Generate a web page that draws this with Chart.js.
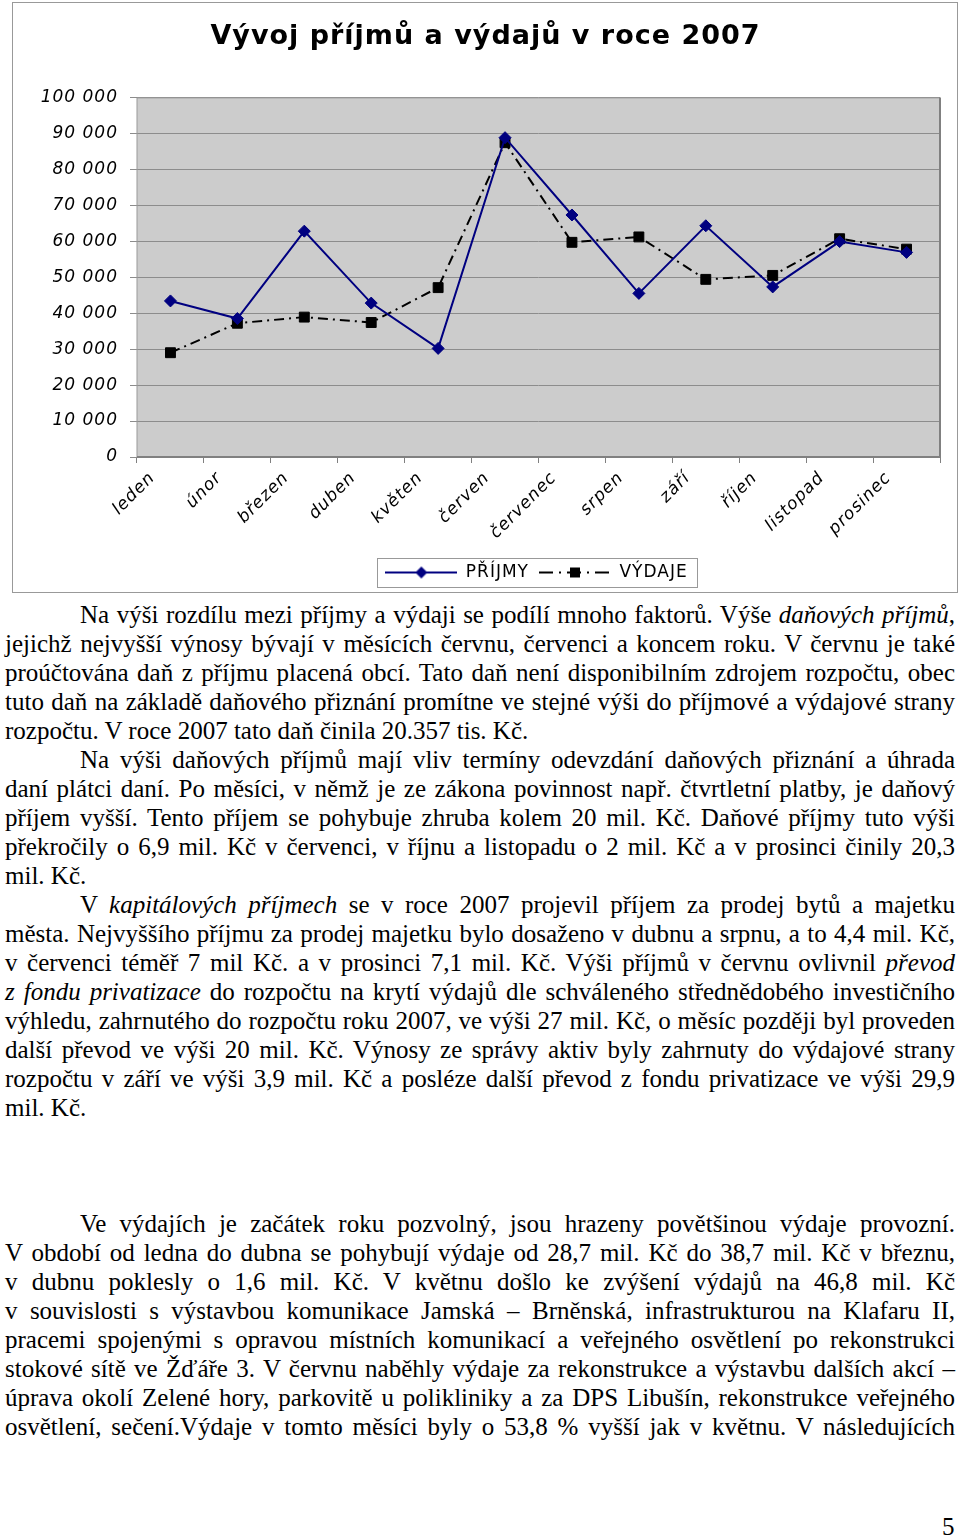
<!DOCTYPE html>
<html>
<head>
<meta charset="utf-8">
<script src="https://cdn.jsdelivr.net/npm/chart.js@4.4.1/dist/chart.umd.min.js"></script>
<style>
body { margin: 0; background: #fff; width: 960px; height: 1537px; position: relative; overflow: hidden; }
#box { position: absolute; left: 12px; top: 2px; width: 944px; height: 589px; border: 1px solid #999; }
#box canvas { display: block; }
#text { position: absolute; left: 5px; top: 600px; width: 950px; font-family: "Liberation Serif", serif; font-size: 25px; line-height: 29px; color: #000; }
.j { text-align: justify; text-align-last: justify; }
.i { text-indent: 75px; }
.gap { height: 87px; }
#page { position: absolute; left: 942px; top: 1512px; font-family: "Liberation Serif", serif; font-size: 25px; line-height: 29px; }
</style>
</head>
<body>
<div id="box"><canvas id="graf" width="944" height="589"></canvas></div>

<div id="text">
<div class="j i">Na výši rozdílu mezi příjmy a výdaji se podílí mnoho faktorů. Výše <i>daňových příjmů</i>,</div>
<div class="j">jejichž nejvyšší výnosy bývají v měsících červnu, červenci a koncem roku. V červnu je také</div>
<div class="j">proúčtována daň z příjmu placená obcí. Tato daň není disponibilním zdrojem rozpočtu, obec</div>
<div class="j">tuto daň na základě daňového přiznání promítne ve stejné výši do příjmové a výdajové strany</div>
<div>rozpočtu. V roce 2007 tato daň činila 20.357 tis. Kč.</div>
<div class="j i">Na výši daňových příjmů mají vliv termíny odevzdání daňových přiznání a úhrada</div>
<div class="j">daní plátci daní. Po měsíci, v němž je ze zákona povinnost např. čtvrtletní platby, je daňový</div>
<div class="j">příjem vyšší. Tento příjem se pohybuje zhruba kolem 20 mil. Kč. Daňové příjmy tuto výši</div>
<div class="j">překročily o 6,9 mil. Kč v červenci, v říjnu a listopadu o 2 mil. Kč a  v prosinci činily 20,3</div>
<div>mil. Kč.</div>
<div class="j i">V <i>kapitálových příjmech</i> se v roce 2007 projevil příjem za prodej bytů a majetku</div>
<div class="j">města. Nejvyššího příjmu za prodej majetku bylo dosaženo v dubnu a srpnu, a to 4,4 mil. Kč,</div>
<div class="j">v červenci téměř 7 mil Kč. a v prosinci 7,1 mil. Kč. Výši příjmů v červnu ovlivnil <i>převod</i></div>
<div class="j"><i>z fondu privatizace</i> do rozpočtu na krytí výdajů dle schváleného střednědobého investičního</div>
<div class="j">výhledu, zahrnutého do rozpočtu roku 2007, ve výši 27 mil. Kč, o měsíc později byl proveden</div>
<div class="j">další převod ve výši 20 mil. Kč. Výnosy ze správy aktiv byly zahrnuty do výdajové strany</div>
<div class="j">rozpočtu v září ve výši 3,9 mil. Kč a posléze další převod z fondu privatizace ve výši 29,9</div>
<div>mil. Kč.</div>
<div class="gap"></div>
<div class="j i">Ve výdajích je začátek roku pozvolný, jsou hrazeny povětšinou výdaje provozní.</div>
<div class="j">V období od ledna do dubna se pohybují výdaje od 28,7 mil. Kč do 38,7 mil. Kč v březnu,</div>
<div class="j">v dubnu poklesly o 1,6 mil. Kč. V květnu došlo ke zvýšení výdajů na 46,8 mil. Kč</div>
<div class="j">v souvislosti s výstavbou komunikace Jamská – Brněnská, infrastrukturou na Klafaru II,</div>
<div class="j">pracemi spojenými s opravou místních komunikací a veřejného osvětlení po rekonstrukci</div>
<div class="j">stokové sítě ve Žďáře 3. V červnu naběhly výdaje za rekonstrukce a výstavbu dalších akcí –</div>
<div class="j">úprava okolí Zelené hory, parkovitě u polikliniky a za DPS Libušín, rekonstrukce veřejného</div>
<div class="j">osvětlení, sečení.Výdaje v tomto měsíci byly o 53,8 % vyšší jak v květnu. V následujících</div>
</div>
<div id="page">5</div>

<script>
const mesice = ['leden', 'únor', 'březen', 'duben', 'květen', 'červen', 'červenec', 'srpen', 'září', 'říjen', 'listopad', 'prosinec'];
const prijmy = [43400, 38500, 62800, 42800, 30200, 88800, 67300, 45500, 64300, 47300, 59900, 56900];
const vydaje = [29000, 37200, 38900, 37400, 47100, 87400, 59700, 61200, 49400, 50500, 60700, 57800];
const popiskyY = ['0', '10 000', '20 000', '30 000', '40 000', '50 000', '60 000', '70 000', '80 000', '90 000', '100 000'];

const pismo = 'DejaVu Sans';

// malé obrázky do legendy: čára se značkou
function znackaLegendy(barva, dash, tvar) {
    const c = document.createElement('canvas');
    c.width = 72; c.height = 14;
    const g = c.getContext('2d');
    g.strokeStyle = barva; g.fillStyle = barva; g.lineWidth = 2;
    g.setLineDash(dash);
    g.beginPath(); g.moveTo(0, 7); g.lineTo(72, 7); g.stroke();
    g.setLineDash([]);
    g.beginPath();
    if (tvar === 'kosoctverec') {
        g.moveTo(36, 1); g.lineTo(42, 7); g.lineTo(36, 13); g.lineTo(30, 7);
    } else {
        g.rect(31, 2, 10, 10);
    }
    g.closePath(); g.fill();
    return c;
}
const symbolPrijmy = znackaLegendy('#000080', [], 'kosoctverec');
const symbolVydaje = znackaLegendy('#000000', [14, 6, 2, 6], 'ctverec');

const rozestup = {
    id: 'rozestup',
    beforeUpdate(c) { c.ctx.letterSpacing = '1px'; },
    beforeDraw(c) { c.ctx.letterSpacing = '1px'; }
};

const pozadi = {
    id: 'pozadi',
    afterLayout(c) {
        // legenda a nadpis jsou v originále posunuté doprava
        c.legend.left += 60;
        c.legend.right += 60;
        c.titleBlock.left += 9;
        c.titleBlock.right += 9;
    },
    beforeDraw(c) {
        const a = c.chartArea, g = c.ctx;
        g.save();
        g.fillStyle = '#cccccc';
        g.fillRect(a.left, a.top, a.right - a.left, a.bottom - a.top);
        g.restore();
    },
    beforeDatasetsDraw(c) {
        const a = c.chartArea, g = c.ctx;
        g.save();
        g.strokeStyle = '#999999'; g.lineWidth = 1;
        g.beginPath(); g.moveTo(a.left, a.bottom); g.lineTo(a.left, a.top + 0.5); g.lineTo(a.right, a.top + 0.5); g.stroke();
        g.strokeStyle = '#808080'; g.lineWidth = 2;
        g.beginPath(); g.moveTo(a.right, a.top); g.lineTo(a.right, a.bottom); g.lineTo(a.left, a.bottom); g.stroke();
        g.restore();
    },
    afterDraw(c) {
        const hb = c.legend.legendHitBoxes;
        if (!hb || !hb.length) return;
        const last = hb[hb.length - 1];
        const l = hb[0].left - 8, r = last.left + last.width + 10;
        const t = hb[0].top - 6, b = hb[0].top + hb[0].height + 6;
        const g = c.ctx;
        g.save();
        g.strokeStyle = '#999999'; g.lineWidth = 1;
        g.strokeRect(Math.round(l) + 0.5, Math.round(t) + 0.5, Math.round(r - l), Math.round(b - t));
        g.restore();
    }
};

new Chart(document.getElementById('graf'), {
    type: 'line',
    data: {
        labels: mesice,
        datasets: [
            { label: 'PŘÍJMY', data: prijmy, borderColor: '#000080', backgroundColor: '#000080', borderWidth: 2,
              pointStyle: 'rectRot', pointRadius: 6, pointBorderWidth: 1, tension: 0 },
            { label: 'VÝDAJE', data: vydaje, borderColor: '#000000', backgroundColor: '#000000', borderWidth: 2,
              borderDash: [10, 5, 2, 5], pointStyle: 'rect', pointRadius: 7, pointBorderWidth: 1, tension: 0 }
        ]
    },
    options: {
        responsive: false,
        animation: false,
        layout: { padding: { top: 0, left: 0, right: 17, bottom: 1 } },
        plugins: {
            title: {
                display: true, text: 'Vývoj příjmů a výdajů v roce 2007', color: '#000',
                font: { family: pismo, size: 27, weight: 'bold' },
                padding: { top: 18, bottom: 44 }
            },
            legend: {
                position: 'bottom',
                labels: {
                    usePointStyle: true, pointStyleWidth: 72, padding: 10, color: '#000',
                    font: { family: pismo, size: 17 },
                    generateLabels: () => [
                        { text: 'PŘÍJMY', pointStyle: symbolPrijmy, fillStyle: '#000080', strokeStyle: '#000080', lineWidth: 0, datasetIndex: 0, hidden: false, fontColor: '#000' },
                        { text: 'VÝDAJE', pointStyle: symbolVydaje, fillStyle: '#000', strokeStyle: '#000', lineWidth: 0, datasetIndex: 1, hidden: false, fontColor: '#000' }
                    ]
                }
            },
            tooltip: { enabled: false }
        },
        scales: {
            x: {
                offset: true,
                grid: { offset: true, drawOnChartArea: false, drawTicks: true, tickLength: 6, color: '#808080' },
                border: { display: false },
                ticks: { color: '#000', maxRotation: 45, minRotation: 45, autoSkip: false, labelOffset: -18, padding: 5,
                         font: { family: pismo, size: 17, style: 'italic' } },
                afterFit(s) { s.height = 97; }
            },
            y: {
                min: 0, max: 100000,
                grid: { color: '#8c8c8c', tickLength: 7, drawTicks: true },
                border: { display: false },
                ticks: { stepSize: 10000, color: '#000', padding: 12,
                         font: { family: pismo, size: 17, style: 'italic' },
                         callback: (v, i) => popiskyY[i] },
                afterFit(s) { s.width = 124; }
            }
        }
    },
    plugins: [rozestup, pozadi]
});
</script>
</body>
</html>
